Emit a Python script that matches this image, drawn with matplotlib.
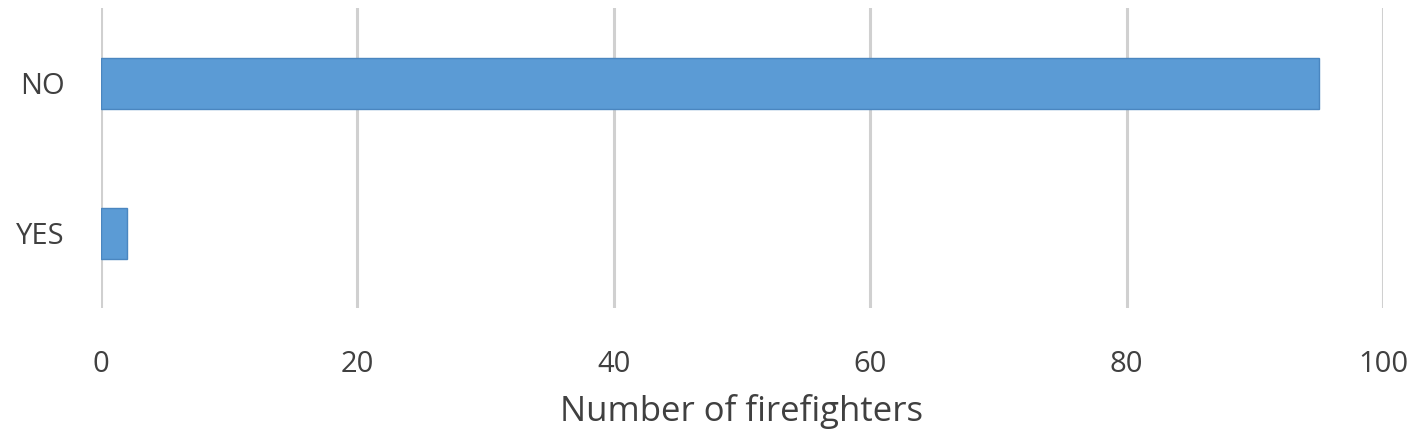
import matplotlib.pyplot as plt

categories = ["YES", "NO"]
counts = [2, 95]
xticks = [0, 20, 40, 60, 80, 100]

plt.rcParams['font.family'] = ['Open Sans', 'DejaVu Sans']

fig = plt.figure(figsize=(14.18, 4.46), dpi=100)
ax = fig.add_axes([0.0712, 0.309, 0.9041, 0.673])

ax.barh(categories, counts, height=0.34, color='#5B9BD5', edgecolor='#4A86C0', linewidth=1, zorder=3)

ax.set_xlim(0, 100)
ax.set_ylim(-0.5, 1.5)
ax.set_xticks(xticks)
ax.grid(axis='x', color='#D0D0D0', linewidth=2.2, zorder=0)
ax.grid(axis='y', visible=False)
for s in ax.spines.values():
    s.set_visible(False)
ax.tick_params(length=0, labelsize=21, labelcolor='#404040')
ax.tick_params(axis='x', pad=30)
ax.tick_params(axis='y', pad=26)
ax.set_xlabel("Number of firefighters", fontsize=25, color='#404040', labelpad=11)

fig.savefig("out.png", dpi=100)
